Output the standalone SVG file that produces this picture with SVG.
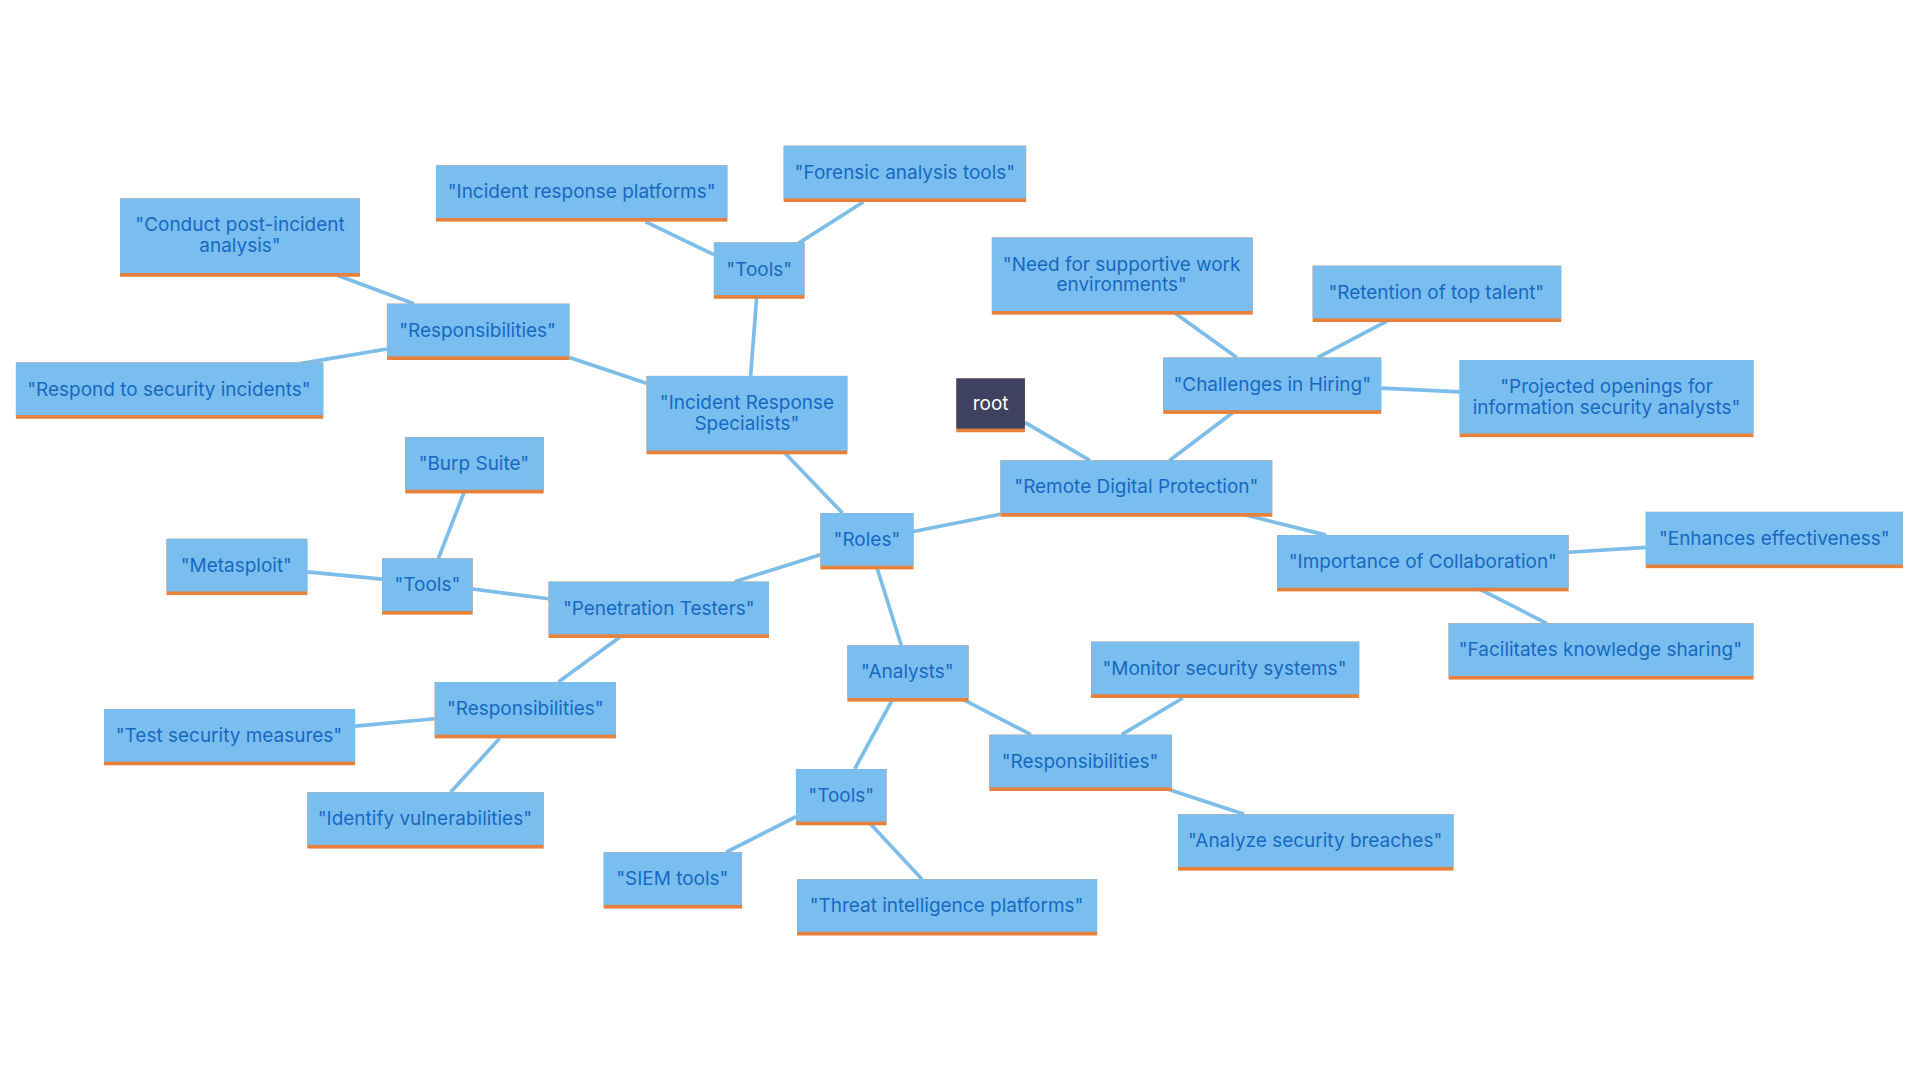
<svg xmlns="http://www.w3.org/2000/svg" width="1920" height="1080" viewBox="0 0 1920 1080">
<style>
.n rect.b{fill:#7abef0}
.n rect.u{fill:#e6803a}
.n text{font-family:Inter,"Open Sans",sans-serif;font-size:15.5px;fill:#1769c0;text-anchor:middle}
#root rect.b{fill:#3e4260}
#root text{fill:#ffffff}
.c line{stroke:#7dbde9;stroke-width:3}
</style>
<rect width="1920" height="1080" fill="#fff"/>
<g transform="scale(1.2245)">
<g class="c">
<line x1="837" y1="345" x2="890" y2="376"/>
<line x1="955" y1="376" x2="1008" y2="336"/>
<line x1="1010" y1="292" x2="960" y2="256"/>
<line x1="1076" y1="292" x2="1133" y2="262"/>
<line x1="1128" y1="317" x2="1192" y2="320"/>
<line x1="1015" y1="420" x2="1083" y2="437"/>
<line x1="1281" y1="451" x2="1344" y2="447"/>
<line x1="1208" y1="481" x2="1263" y2="509"/>
<line x1="817" y1="420" x2="746" y2="434"/>
<line x1="688" y1="419" x2="640" y2="369"/>
<line x1="613" y1="307" x2="618" y2="242"/>
<line x1="583" y1="208" x2="527" y2="181"/>
<line x1="650" y1="200" x2="705" y2="165"/>
<line x1="528" y1="313" x2="465" y2="292"/>
<line x1="338" y1="248" x2="276" y2="225"/>
<line x1="316" y1="285" x2="245" y2="297"/>
<line x1="670" y1="453" x2="600" y2="475"/>
<line x1="448" y1="489" x2="386" y2="481"/>
<line x1="358" y1="456" x2="379" y2="402"/>
<line x1="312" y1="473" x2="251" y2="467"/>
<line x1="508" y1="519" x2="456" y2="557"/>
<line x1="355" y1="587" x2="290" y2="593"/>
<line x1="408" y1="603" x2="368" y2="647"/>
<line x1="716" y1="463" x2="736" y2="527"/>
<line x1="729" y1="571" x2="698" y2="628"/>
<line x1="786" y1="571" x2="842" y2="600"/>
<line x1="916" y1="600" x2="966" y2="570"/>
<line x1="952" y1="644" x2="1016" y2="665"/>
<line x1="650" y1="667" x2="593" y2="696"/>
<line x1="710" y1="672" x2="753" y2="718"/>
</g>
<g id="root" class="n"><rect class="u" x="781" y="309" width="56" height="44"/><rect class="b" x="781" y="309" width="56" height="41"/><text x="809" y="335">root</text></g>
<g id="rdp" class="n"><rect class="u" x="817" y="376" width="222" height="46"/><rect class="b" x="817" y="376" width="222" height="43"/><text x="928" y="403">"Remote Digital Protection"</text></g>
<g id="chal" class="n"><rect class="u" x="950" y="292" width="178" height="46"/><rect class="b" x="950" y="292" width="178" height="43"/><text x="1039" y="319">"Challenges in Hiring"</text></g>
<g id="need" class="n"><rect class="u" x="810" y="194" width="213" height="63"/><rect class="b" x="810" y="194" width="213" height="60"/><text x="916" y="221">"Need for supportive work</text><text x="916" y="238">environments"</text></g>
<g id="ret" class="n"><rect class="u" x="1072" y="217" width="203" height="46"/><rect class="b" x="1072" y="217" width="203" height="43"/><text x="1173" y="244">"Retention of top talent"</text></g>
<g id="proj" class="n"><rect class="u" x="1192" y="294" width="240" height="63"/><rect class="b" x="1192" y="294" width="240" height="60"/><text x="1312" y="321">"Projected openings for</text><text x="1312" y="338">information security analysts"</text></g>
<g id="coll" class="n"><rect class="u" x="1043" y="437" width="238" height="46"/><rect class="b" x="1043" y="437" width="238" height="43"/><text x="1162" y="464">"Importance of Collaboration"</text></g>
<g id="enh" class="n"><rect class="u" x="1344" y="418" width="210" height="46"/><rect class="b" x="1344" y="418" width="210" height="43"/><text x="1449" y="445">"Enhances effectiveness"</text></g>
<g id="fac" class="n"><rect class="u" x="1183" y="509" width="249" height="46"/><rect class="b" x="1183" y="509" width="249" height="43"/><text x="1307" y="536">"Facilitates knowledge sharing"</text></g>
<g id="roles" class="n"><rect class="u" x="670" y="419" width="76" height="46"/><rect class="b" x="670" y="419" width="76" height="43"/><text x="708" y="446">"Roles"</text></g>
<g id="irs" class="n"><rect class="u" x="528" y="307" width="164" height="64"/><rect class="b" x="528" y="307" width="164" height="61"/><text x="610" y="334">"Incident Response</text><text x="610" y="351">Specialists"</text></g>
<g id="irtools" class="n"><rect class="u" x="583" y="198" width="74" height="46"/><rect class="b" x="583" y="198" width="74" height="43"/><text x="620" y="225">"Tools"</text></g>
<g id="irp" class="n"><rect class="u" x="356" y="135" width="238" height="46"/><rect class="b" x="356" y="135" width="238" height="43"/><text x="475" y="162">"Incident response platforms"</text></g>
<g id="fat" class="n"><rect class="u" x="640" y="119" width="198" height="46"/><rect class="b" x="640" y="119" width="198" height="43"/><text x="739" y="146">"Forensic analysis tools"</text></g>
<g id="irresp" class="n"><rect class="u" x="316" y="248" width="149" height="46"/><rect class="b" x="316" y="248" width="149" height="43"/><text x="390" y="275">"Responsibilities"</text></g>
<g id="cpia" class="n"><rect class="u" x="98" y="162" width="196" height="64"/><rect class="b" x="98" y="162" width="196" height="61"/><text x="196" y="189">"Conduct post-incident</text><text x="196" y="206">analysis"</text></g>
<g id="rsi" class="n"><rect class="u" x="13" y="296" width="251" height="46"/><rect class="b" x="13" y="296" width="251" height="43"/><text x="138" y="323">"Respond to security incidents"</text></g>
<g id="pt" class="n"><rect class="u" x="448" y="475" width="180" height="46"/><rect class="b" x="448" y="475" width="180" height="43"/><text x="538" y="502">"Penetration Testers"</text></g>
<g id="pttools" class="n"><rect class="u" x="312" y="456" width="74" height="46"/><rect class="b" x="312" y="456" width="74" height="43"/><text x="349" y="483">"Tools"</text></g>
<g id="burp" class="n"><rect class="u" x="331" y="357" width="113" height="46"/><rect class="b" x="331" y="357" width="113" height="43"/><text x="387" y="384">"Burp Suite"</text></g>
<g id="msf" class="n"><rect class="u" x="136" y="440" width="115" height="46"/><rect class="b" x="136" y="440" width="115" height="43"/><text x="193" y="467">"Metasploit"</text></g>
<g id="ptresp" class="n"><rect class="u" x="355" y="557" width="148" height="46"/><rect class="b" x="355" y="557" width="148" height="43"/><text x="429" y="584">"Responsibilities"</text></g>
<g id="tsm" class="n"><rect class="u" x="85" y="579" width="205" height="46"/><rect class="b" x="85" y="579" width="205" height="43"/><text x="187" y="606">"Test security measures"</text></g>
<g id="iv" class="n"><rect class="u" x="251" y="647" width="193" height="46"/><rect class="b" x="251" y="647" width="193" height="43"/><text x="347" y="674">"Identify vulnerabilities"</text></g>
<g id="an" class="n"><rect class="u" x="692" y="527" width="99" height="46"/><rect class="b" x="692" y="527" width="99" height="43"/><text x="741" y="554">"Analysts"</text></g>
<g id="antools" class="n"><rect class="u" x="650" y="628" width="74" height="46"/><rect class="b" x="650" y="628" width="74" height="43"/><text x="687" y="655">"Tools"</text></g>
<g id="siem" class="n"><rect class="u" x="493" y="696" width="113" height="46"/><rect class="b" x="493" y="696" width="113" height="43"/><text x="549" y="723">"SIEM tools"</text></g>
<g id="tip" class="n"><rect class="u" x="651" y="718" width="245" height="46"/><rect class="b" x="651" y="718" width="245" height="43"/><text x="773" y="745">"Threat intelligence platforms"</text></g>
<g id="anresp" class="n"><rect class="u" x="808" y="600" width="149" height="46"/><rect class="b" x="808" y="600" width="149" height="43"/><text x="882" y="627">"Responsibilities"</text></g>
<g id="mss" class="n"><rect class="u" x="891" y="524" width="219" height="46"/><rect class="b" x="891" y="524" width="219" height="43"/><text x="1000" y="551">"Monitor security systems"</text></g>
<g id="asb" class="n"><rect class="u" x="962" y="665" width="225" height="46"/><rect class="b" x="962" y="665" width="225" height="43"/><text x="1074" y="692">"Analyze security breaches"</text></g>
</g>
</svg>
